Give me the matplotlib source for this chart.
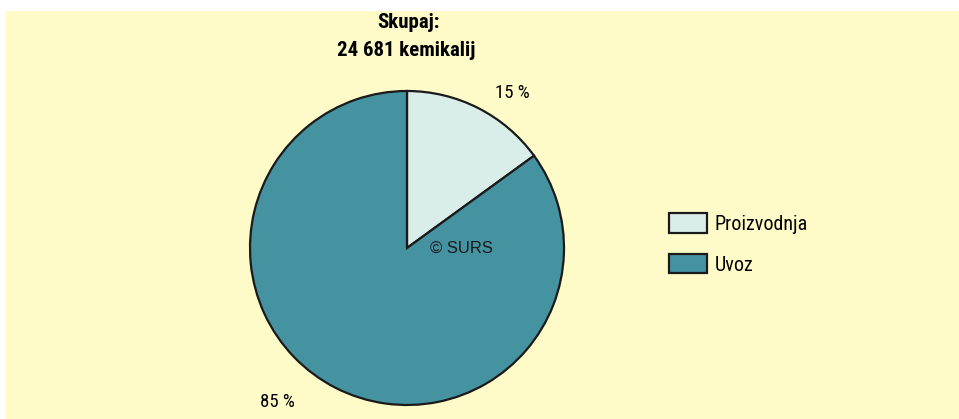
import matplotlib
matplotlib.use("Agg")
import matplotlib.pyplot as plt
from matplotlib.patches import Rectangle

categories = ["Proizvodnja", "Uvoz"]
values = [15, 85]
colors = ["#d9ede9", "#4593a0"]
title_lines = ["Skupaj:", "24 681 kemikalij"]
watermark = "© SURS"

W, H = 959, 419
fig = plt.figure(figsize=(W / 100, H / 100), dpi=100, facecolor="white")
ax = fig.add_axes([0, 0, 1, 1])

narrow = ["Roboto Condensed", "DejaVu Sans"]
regular = ["Liberation Sans", "DejaVu Sans"]

cx, cy, r = 407, H - 248, 157
wedges, _ = ax.pie(values, colors=colors, startangle=90, counterclock=False,
                   center=(cx, cy), radius=r,
                   wedgeprops=dict(edgecolor="#1a1a1a", linewidth=1.6))
ax.set_xlim(0, W)
ax.set_ylim(0, H)
ax.set_aspect("auto")
ax.axis("off")

# background panel
bg = Rectangle((6, 0), W - 6, H - 11, transform=ax.transData,
               facecolor="#fffbc8", edgecolor="none", zorder=-10)
ax.add_patch(bg)

# title
ax.text(409, H - 23, title_lines[0], ha="center", va="center",
        fontsize=15, fontweight="bold", family=narrow)
ax.text(406, H - 50, title_lines[1], ha="center", va="center",
        fontsize=15, fontweight="bold", family=narrow)

# percentage labels
ax.text(512, H - 93, f"{values[0]} %", ha="center", va="center",
        fontsize=13.5, family=narrow)
ax.text(277, H - 402, f"{values[1]} %", ha="center", va="center",
        fontsize=13.5, family=narrow)

# watermark
ax.text(430, H - 248, watermark, ha="left", va="center",
        fontsize=12, family=regular, color="#1a1a1a")

leg = ax.legend(wedges, categories, loc="center left",
                bbox_to_anchor=(669 / W, 1 - 244 / H),
                bbox_transform=fig.transFigure,
                frameon=False, prop=dict(family=narrow, size=14.5),
                borderaxespad=0, borderpad=0,
                handlelength=1.9, handleheight=1.1, handletextpad=0.38,
                labelspacing=1.0)

fig.savefig("out.png", dpi=100, facecolor="white")
